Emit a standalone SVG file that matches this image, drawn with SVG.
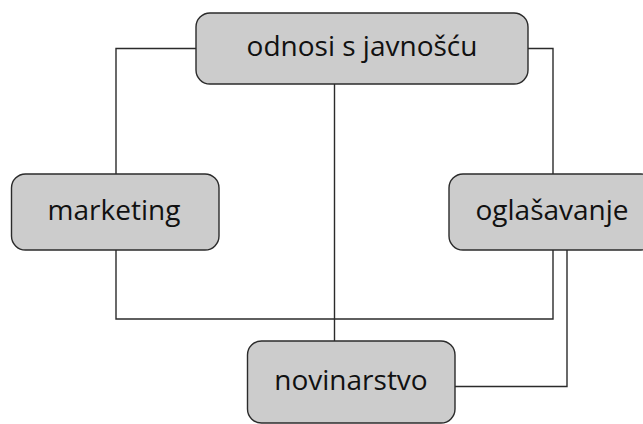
<svg xmlns="http://www.w3.org/2000/svg" width="643" height="424" viewBox="0 0 643 424">
<style>
.box{fill:#cccccc;stroke:#2b2b2b;stroke-width:1.4}
.lbl{font-family:"Open Sans","Noto Sans",sans-serif;font-size:28px;fill:#111;text-anchor:middle}
.con{fill:none;stroke:#2b2b2b;stroke-width:1.4}
</style>
<rect width="643" height="424" fill="#ffffff"/>
<g id="connectors">
<path class="con" d="M196,48.5 H116 V174"/>
<path class="con" d="M528,48.5 H553 V174"/>
<path class="con" d="M116,250 V319 H553 V250"/>
<path class="con" d="M334.5,84 V341"/>
<path class="con" d="M567,250 V386.5 H455"/>
</g>
<g id="odnosi">
<rect class="box" x="196" y="13" width="332" height="71" rx="14"/>
<text class="lbl" x="362" y="56">odnosi s javnošću</text>
</g>
<g id="marketing">
<rect class="box" x="11.5" y="174" width="207.5" height="76" rx="14"/>
<text class="lbl" x="114" y="219.5">marketing</text>
</g>
<g id="oglasavanje">
<rect class="box" x="449" y="174" width="206" height="76" rx="14"/>
<text class="lbl" x="552" y="219.5">oglašavanje</text>
</g>
<g id="novinarstvo">
<rect class="box" x="247.5" y="341" width="207.5" height="82" rx="14"/>
<text class="lbl" x="351" y="390">novinarstvo</text>
</g>
</svg>
